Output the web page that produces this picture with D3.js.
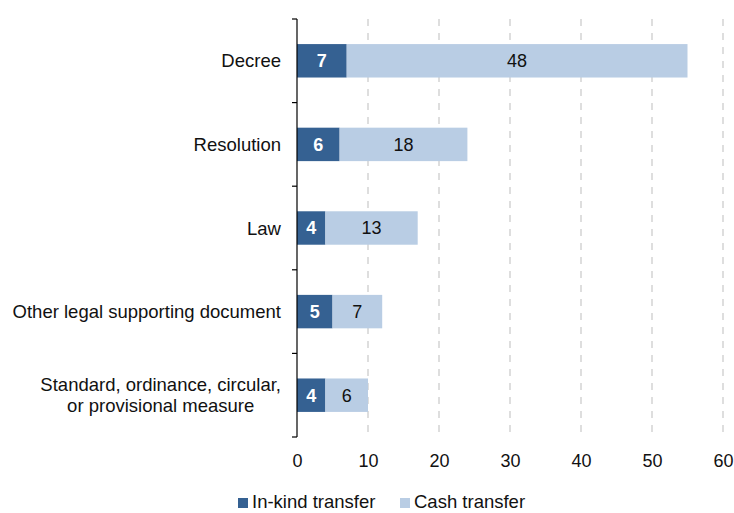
<!DOCTYPE html>
<html>
<head>
<meta charset="utf-8">
<script src="https://cdn.jsdelivr.net/npm/d3@7"></script>
<style>
  body { margin: 0; background: #fff; }
  svg text { font-family: "Liberation Sans", Arial, sans-serif; }
</style>
</head>
<body>
<svg id="chart" width="734" height="513"></svg>
<script>
// Number of measures by type of legal instrument
const categories = [
  ["Decree"],
  ["Resolution"],
  ["Law"],
  ["Other legal supporting document"],
  ["Standard, ordinance, circular,", "or provisional measure"]
];
const inKind = [7, 6, 4, 5, 4];
const cash = [48, 18, 13, 7, 6];
const xTicks = [0, 10, 20, 30, 40, 50, 60];
const seriesNames = ["In-kind transfer", "Cash transfer"];
const colors = ["#356192", "#b9cde4"];

const svg = d3.select("#chart");
const plotLeft = 297, plotRight = 723, plotTop = 19, plotBottom = 437;

const keys = categories.map((c, i) => i);
const x = d3.scaleLinear().domain([0, 60]).range([plotLeft, plotRight]);
const y = d3.scaleBand().domain(keys).range([plotTop, plotBottom]).paddingInner(0.6).paddingOuter(0.3);
const yb = d3.scaleBand().domain(keys).range([plotTop, plotBottom]);

// dashed vertical grid
svg.append("g").selectAll("line")
  .data(xTicks.filter(d => d > 0))
  .join("line")
  .attr("x1", d => x(d)).attr("x2", d => x(d))
  .attr("y1", plotTop).attr("y2", plotBottom)
  .attr("stroke", "#d4d4d4").attr("stroke-width", 1.5)
  .attr("stroke-dasharray", "7,7");

// stacked bars
const rows = keys.map(i => ({ i, a: inKind[i], b: cash[i] }));
const g = svg.append("g");
g.selectAll("rect.a").data(rows).join("rect").attr("class", "a")
  .attr("x", x(0)).attr("y", d => y(d.i))
  .attr("width", d => x(d.a) - x(0)).attr("height", y.bandwidth())
  .attr("fill", colors[0]);
g.selectAll("rect.b").data(rows).join("rect").attr("class", "b")
  .attr("x", d => x(d.a)).attr("y", d => y(d.i))
  .attr("width", d => x(d.a + d.b) - x(d.a)).attr("height", y.bandwidth())
  .attr("fill", colors[1]);

// value labels
g.selectAll("text.a").data(rows).join("text").attr("class", "a")
  .attr("x", d => x(d.a / 2)).attr("y", d => y(d.i) + y.bandwidth() / 2)
  .attr("text-anchor", "middle").attr("dy", "0.36em")
  .attr("fill", "#fff").attr("font-weight", "bold").attr("font-size", 18)
  .text(d => d.a);
g.selectAll("text.b").data(rows).join("text").attr("class", "b")
  .attr("x", d => x(d.a + d.b / 2)).attr("y", d => y(d.i) + y.bandwidth() / 2)
  .attr("text-anchor", "middle").attr("dy", "0.36em")
  .attr("fill", "#111").attr("font-size", 18)
  .text(d => d.b);

// y axis with ticks at band boundaries
const yAxis = svg.append("g");
yAxis.append("line")
  .attr("x1", plotLeft).attr("x2", plotLeft).attr("y1", plotTop).attr("y2", plotBottom)
  .attr("stroke", "#000").attr("stroke-width", 1.2);
yAxis.selectAll("line.t")
  .data(keys.map(i => yb(i)).concat([plotBottom]))
  .join("line").attr("class", "t")
  .attr("x1", plotLeft - 5).attr("x2", plotLeft)
  .attr("y1", d => d).attr("y2", d => d)
  .attr("stroke", "#000").attr("stroke-width", 1.2);

// category labels: block right-aligned to the axis, lines centred within the block
const labelRight = plotLeft - 16;
yAxis.selectAll("text.cat").data(keys).join("text").attr("class", "cat")
  .attr("font-size", 18.5).attr("fill", "#111")
  .each(function(i) {
    const lines = categories[i];
    const cy = y(i) + y.bandwidth() / 2;
    const lh = 21;
    const t = d3.select(this);
    const spans = lines.map((s, k) => t.append("tspan")
      .attr("y", cy + (k - (lines.length - 1) / 2) * lh)
      .attr("dy", "0.36em")
      .text(s));
    const widths = spans.map(sp => sp.node().getComputedTextLength());
    const maxW = d3.max(widths);
    spans.forEach((sp, k) => sp.attr("x", labelRight - maxW + (maxW - widths[k]) / 2));
  });

// x axis labels
const xAxis = d3.axisBottom(x).tickValues(xTicks).tickSize(0).tickPadding(17);
const xg = svg.append("g").attr("transform", `translate(0,${plotBottom})`).call(xAxis);
xg.select(".domain").remove();
xg.selectAll("text").attr("font-size", 18).attr("fill", "#111")
  .attr("font-family", "Liberation Sans, Arial, sans-serif");

// legend along the bottom edge
const legend = svg.append("g");
const legendX = [238, 400];
seriesNames.forEach((name, k) => {
  legend.append("rect").attr("x", legendX[k]).attr("y", 498).attr("width", 10).attr("height", 10)
    .attr("fill", colors[k]);
  legend.append("text").attr("x", legendX[k] + 14).attr("y", 501.5).attr("dy", "0.36em")
    .attr("font-size", 18.5).attr("fill", "#111").text(name);
});
</script>
</body>
</html>
